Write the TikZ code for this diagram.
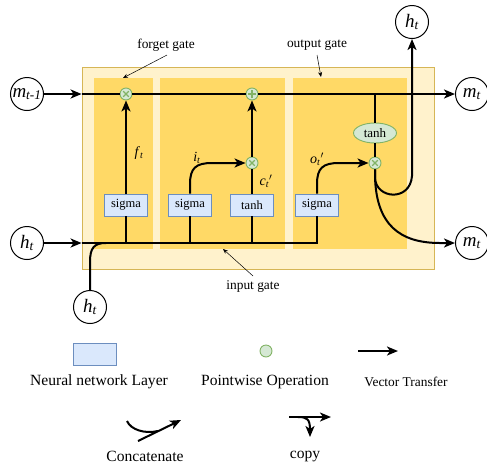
\documentclass[tikz,border=0pt]{standalone}
\usepackage{fontspec}
\setmainfont{Liberation Serif}
\usepackage{tikz}
\usetikzlibrary{arrows.meta,positioning,calc,shapes.geometric}
\definecolor{cellfill}{HTML}{FFF2CC}
\definecolor{celldraw}{HTML}{D6B656}
\definecolor{gatefill}{HTML}{FFD966}
\definecolor{layerfill}{HTML}{DAE8FC}
\definecolor{layerdraw}{HTML}{6C8EBF}
\definecolor{opfill}{HTML}{D5E8D4}
\definecolor{opdraw}{HTML}{82B366}
\newcommand{\sub}[2]{\textit{#1}\textsubscript{\textit{#2}}}
\tikzset{
  statenode/.style={circle,draw,line width=1pt,fill=white,minimum size=33pt,inner sep=0pt,
    font=\fontsize{19}{19}\selectfont},
  cellbox/.style={draw=celldraw,fill=cellfill,line width=0.8pt,minimum width=352pt,minimum height=202pt},
  gatepanel/.style={fill=gatefill,minimum height=171pt},
  layerbox/.style={draw=layerdraw,fill=layerfill,line width=0.9pt,minimum width=43pt,minimum height=22pt,
    inner sep=0pt,font=\fontsize{12.5}{12.5}\selectfont},
  opnode/.style={circle,draw=opdraw,fill=opfill,line width=0.9pt,minimum size=12pt,inner sep=0pt},
  multop/.style={opnode,path picture={
    \draw[line width=1.1pt] ([shift={(-2.8pt,-2.8pt)}]path picture bounding box.center)
      -- ([shift={(2.8pt,2.8pt)}]path picture bounding box.center);
    \draw[line width=1.1pt] ([shift={(-2.8pt,2.8pt)}]path picture bounding box.center)
      -- ([shift={(2.8pt,-2.8pt)}]path picture bounding box.center);}},
  addop/.style={opnode,path picture={
    \draw[line width=1.2pt] ([xshift=-4pt]path picture bounding box.center)
      -- ([xshift=4pt]path picture bounding box.center);
    \draw[line width=1.2pt] ([yshift=-4pt]path picture bounding box.center)
      -- ([yshift=4pt]path picture bounding box.center);}},
  actop/.style={ellipse,draw=opdraw,fill=opfill,line width=0.9pt,minimum width=43pt,minimum height=20pt,
    inner sep=0pt,font=\fontsize{13}{13}\selectfont},
  flowline/.style={line width=2pt},
  flowarrow/.style={flowline,-{Stealth[length=11pt,width=9pt,inset=3pt]}},
  notearrow/.style={line width=0.5pt,-{Stealth[length=5pt,width=4pt]}},
  notetext/.style={font=\fontsize{13.4}{13.4}\selectfont},
  legendtext/.style={font=\fontsize{15.6}{15.6}\selectfont},
  vallabel/.style={font=\fontsize{14}{14}\selectfont}
}
\begin{document}
\begin{tikzpicture}[x=1pt,y=-1pt]
  \useasboundingbox (0,0) rectangle (487,467);
  % cell and gate panels
  \node[cellbox] (cell) at (258,168) {};
  \node[gatepanel,minimum width=59pt] (pforget) at (123.5,163.5) {};
  \node[gatepanel,minimum width=125pt] (pinput) at (222.5,163.5) {};
  \node[gatepanel,minimum width=114pt] (poutput) at (350,163.5) {};

  % states
  \node[statenode] (mprev) at (27,94) {\sub{m}{t-1}};
  \node[statenode] (hin) at (27,243) {\sub{h}{t}};
  \node[statenode] (hbot) at (90,307) {\sub{h}{t}};
  \node[statenode] (htop) at (412,22) {\sub{h}{t}};
  \node[statenode] (mout) at (472,94) {\sub{m}{t}};
  \node[statenode] (mout2) at (472,243) {\sub{m}{t}};

  % operations and layers
  \node[multop] (fx) at (126,94) {};
  \node[addop] (plus) at (252,94) {};
  \node[multop] (ix) at (252,163) {};
  \node[multop] (ox) at (375,163) {};
  \node[actop] (tanhop) at (375,133) {tanh};
  \node[layerbox] (sf) at (126,205) {sigma};
  \node[layerbox] (si) at (190,205) {sigma};
  \node[layerbox] (tc) at (252,205) {tanh};
  \node[layerbox] (so) at (317,205) {sigma};

  % memory line
  \draw[flowarrow] (mprev) -- (mprev -| cell.west);
  \draw[flowline] (mprev -| cell.west) -- (fx);
  \draw[flowline] (fx) -- (plus);
  \draw[flowarrow] (plus) -- (mout);
  \coordinate (tap) at (375,94);
  \draw[flowline] (tap) -- (tanhop);
  \draw[flowline] (tanhop) -- (ox);

  % hidden line
  \draw[flowarrow] (hin) -- (hin -| cell.west);
  \draw[flowline] (hin -| cell.west) -- (so.south |- hin) -- (so);
  \draw[flowline] (hbot) -- (90,262) .. controls (90,248) and (94,243) .. (106,243);
  \draw[flowline] (sf) -- (sf |- hin);
  \draw[flowline] (si) -- (si |- hin);
  \draw[flowline] (tc) -- (tc |- hin);

  % gates
  \draw[flowarrow] (sf) -- (fx);
  \draw[flowarrow] (si.north) -- (190,184) .. controls (190,168) and (196,163) .. (212,163) -- (ix);
  \draw[flowline] (tc) -- (ix);
  \draw[flowarrow] (ix) -- (plus);
  \draw[flowarrow] (so.north) -- (317,184) .. controls (317,168) and (323,163) .. (339,163) -- (ox);
  \draw[flowarrow] (ox) -- (375,178) .. controls (376,199) and (410,202) .. (412,176) -- (htop);
  \draw[flowarrow] (ox) -- (375,176) .. controls (376,225) and (400,243) .. (440,243) -- (mout2);

  \node[vallabel] (flbl) at (139,153) {\sub{f}{t}};
  \node[vallabel] (ilbl) at (197,158) {\sub{i}{t}};
  \node[vallabel] (clbl) at (266,181) {\sub{c}{t}$'$};
  \node[vallabel] (olbl) at (317,159) {\sub{o}{t}$'$};

  % gate notes
  \node[notetext] (fgate) at (166,45) {forget gate};
  \coordinate (fgtip) at (123,78);
  \draw[notearrow] (167,55) -- (fgtip);
  \node[notetext] (ogate) at (317,45) {output gate};
  \coordinate (ogtip) at (321,77);
  \draw[notearrow] (317,55) -- (ogtip);
  \node[notetext] (igate) at (253,287) {input gate};
  \coordinate (igtip) at (223,249);
  \draw[notearrow] (253,276) -- (igtip);

  % legend
  \node[layerbox] (lglayer) at (95,354) {};
  \node[legendtext] at (99,382) {Neural network Layer};
  \node[opnode] (lgop) at (266,351) {};
  \node[legendtext] at (265,382) {Pointwise Operation};
  \coordinate (vta) at (358,351);
  \coordinate (vtb) at (398,351);
  \draw[flowarrow] (vta) -- (vtb);
  \node[notetext] at (406,382) {Vector Transfer};
  \coordinate (cca) at (127,421);
  \coordinate (ccb) at (138,441);
  \coordinate (ccc) at (181,420);
  \draw[flowline] (cca) .. controls (131,430) and (145,434) .. (158,431);
  \draw[flowarrow] (ccb) -- (ccc);
  \node[legendtext] at (145,456) {Concatenate};
  \coordinate (cpa) at (289,417);
  \coordinate (cpb) at (331,417);
  \coordinate (cpc) at (310,437);
  \draw[flowarrow] (cpa) -- (cpb);
  \draw[flowarrow] (298,417) .. controls (307,417) and (310,419) .. (cpc);
  \node[legendtext] at (305,456) {copy};
\end{tikzpicture}
\end{document}
